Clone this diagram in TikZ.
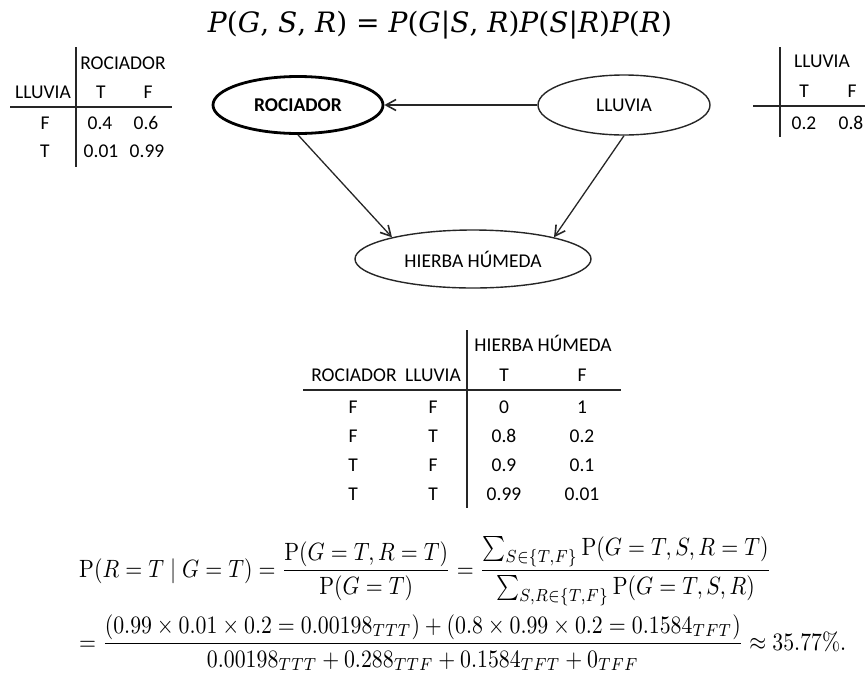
\documentclass[tikz,border=0pt]{standalone}
\usepackage[no-math]{fontspec}
\setmainfont{Carlito}
\newfontfamily\eqfont{DejaVu Serif}
\usetikzlibrary{arrows.meta,shapes.geometric}
\newcommand\qv[1]{{\itshape #1}}

\begin{document}
\begin{tikzpicture}[x=1pt,y=-1pt,
  every node/.style={inner sep=0pt},
  txt/.style={font=\fontsize{19.5}{22}\selectfont, anchor=base},
  rule/.style={line width=1.3pt, draw=black!85},
  var/.style={ellipse, draw=black!85, line width=1.4pt, font=\fontsize{19.5}{22}\selectfont},
  arr/.style={line width=1.3pt, draw=black!85, -{Straight Barb[length=10pt,width=11pt,line width=1.6pt]}},
  eqn/.style={anchor=base west}]
\useasboundingbox (0,0) rectangle (865,673);

% joint distribution
\node[anchor=base] (joint) at (440,32) {\resizebox{464pt}{!}{\eqfont
  \qv{P}(\qv{G}, \qv{S}, \qv{R}) = \qv{P}(\qv{G}|\qv{S}, \qv{R})\qv{P}(\qv{S}|\qv{R})\qv{P}(\qv{R})}};

% network
\node[var, line width=2.8pt, draw=black, minimum width=170pt, minimum height=57pt, font=\fontsize{19.5}{22}\selectfont\bfseries] (roc) at (298,105) {ROCIADOR};
\node[var, minimum width=172pt, minimum height=60pt] (llu) at (624,105) {LLUVIA};
\node[var, minimum width=236pt, minimum height=58pt] (hh) at (473,259) {HIERBA HÚMEDA};

\draw[arr] (llu.west) -- (roc.east);
\draw[arr] (roc.south) -- (hh.165);
\draw[arr] (llu.south) -- (hh.15);

% table for ROCIADOR given LLUVIA
\node[txt] (t1h) at (123,69) {ROCIADOR};
\node[txt] (t1v) at (43,98) {LLUVIA};
\node[txt] (t1T) at (101,98) {T};
\node[txt] (t1F) at (148,98) {F};
\node[txt] (t1r1) at (45,129) {F};
\node[txt] (t1a) at (100,129) {0.4};
\node[txt] (t1b) at (146,129) {0.6};
\node[txt] (t1r2) at (45,157) {T};
\node[txt] (t1c) at (101,157) {0.01};
\node[txt] (t1d) at (147,157) {0.99};
\coordinate (t1top) at (76,47);
\coordinate (t1bot) at (76,167);
\coordinate (t1l) at (10,107);
\coordinate (t1r) at (172,107);
\draw[rule] (t1top) -- (t1bot);
\draw[rule] (t1l) -- (t1r);

% table for LLUVIA
\node[txt] (t2h) at (822,67) {LLUVIA};
\node[txt] (t2T) at (804,97) {T};
\node[txt] (t2F) at (852,97) {F};
\node[txt] (t2a) at (804,129) {0.2};
\node[txt] (t2b) at (851,129) {0.8};
\coordinate (t2top) at (780,47);
\coordinate (t2bot) at (780,137);
\coordinate (t2l) at (753,106);
\coordinate (t2r) at (865,106);
\draw[rule] (t2top) -- (t2bot);
\draw[rule] (t2l) -- (t2r);

% table for HIERBA HÚMEDA
\node[txt] (t3h) at (543,351) {HIERBA HÚMEDA};
\node[txt] (t3s) at (354,381) {ROCIADOR};
\node[txt] (t3r) at (433,381) {LLUVIA};
\node[txt] (t3T) at (504,381) {T};
\node[txt] (t3F) at (582,381) {F};
\foreach \s/\r/\pt/\pf [count=\i] in {F/F/0/1, F/T/0.8/0.2, T/F/0.9/0.1, T/T/0.99/0.01}{
  \node[txt] (s\i) at (353,{384+29*\i}) {\s};
  \node[txt] (r\i) at (433,{384+29*\i}) {\r};
  \node[txt] (pt\i) at (504,{384+29*\i}) {\pt};
  \node[txt] (pf\i) at (582,{384+29*\i}) {\pf};
}
\coordinate (t3top) at (467,330);
\coordinate (t3bot) at (467,508);
\coordinate (t3l) at (303,390);
\coordinate (t3r) at (621,390);
\draw[rule] (t3top) -- (t3bot);
\draw[rule] (t3l) -- (t3r);

% inference
\node[eqn] (inf1) at (79,577) {\scalebox{2.18}[2.5]{$\displaystyle
  \mathrm{P}(R=T\mid G=T)=\frac{\mathrm{P}(G=T,R=T)}{\mathrm{P}(G=T)}
  =\frac{\sum_{S\in\{T,F\}}\mathrm{P}(G=T,S,R=T)}{\sum_{S,R\in\{T,F\}}\mathrm{P}(G=T,S,R)}$}};
\node[eqn] (inf2) at (79,650) {\scalebox{2.18}[2.5]{$\displaystyle
  =\frac{(0.99\times0.01\times0.2=0.00198_{TTT})+(0.8\times0.99\times0.2=0.1584_{TFT})}
        {0.00198_{TTT}+0.288_{TTF}+0.1584_{TFT}+0_{TFF}}\approx 35.77\%.$}};
\end{tikzpicture}
\end{document}
